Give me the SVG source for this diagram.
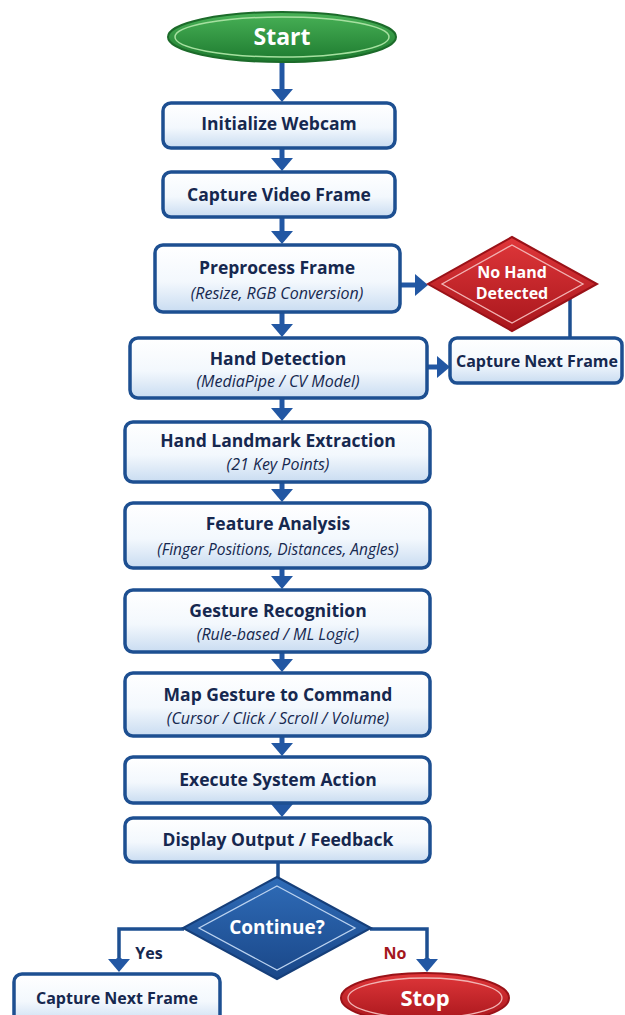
<svg xmlns="http://www.w3.org/2000/svg" width="625" height="1015" viewBox="0 0 625 1015">
<style>
.box{fill:url(#boxg);stroke:#1d4f91;stroke-width:3.5}
.t{font-family:"Open Sans","DejaVu Sans",sans-serif;font-weight:700;fill:#16284f;text-anchor:middle;font-size:17.5px}
.s{font-family:"Open Sans","DejaVu Sans",sans-serif;font-style:italic;fill:#16284f;text-anchor:middle;font-size:16px}
.w{font-family:"Open Sans","DejaVu Sans",sans-serif;font-weight:700;fill:#ffffff;text-anchor:middle}
.a{fill:none;stroke:#2257a3;stroke-width:5}
.l{fill:none;stroke:#1d4f91;stroke-width:3.5}
</style>
<defs>
<linearGradient id="boxg" x1="0" y1="0" x2="0" y2="1">
<stop offset="0" stop-color="#ffffff"/>
<stop offset="0.55" stop-color="#f3f8fd"/>
<stop offset="1" stop-color="#c9dcf1"/>
</linearGradient>
<linearGradient id="greeng" x1="0" y1="0" x2="0" y2="1">
<stop offset="0" stop-color="#49b257"/>
<stop offset="1" stop-color="#1d7a2f"/>
</linearGradient>
<linearGradient id="redg" x1="0" y1="0" x2="0" y2="1">
<stop offset="0" stop-color="#e0373a"/>
<stop offset="1" stop-color="#a8161c"/>
</linearGradient>
<linearGradient id="blueg" x1="0" y1="0" x2="0" y2="1">
<stop offset="0" stop-color="#2f6cb8"/>
<stop offset="1" stop-color="#1a4788"/>
</linearGradient>
<marker id="ah" viewBox="0 0 13 22" markerWidth="13" markerHeight="22" refX="5" refY="11" orient="auto" markerUnits="userSpaceOnUse">
<polygon points="0,0 13,11 0,22" fill="#2257a3"/>
</marker>
</defs>
<rect width="625" height="1015" fill="#ffffff"/>

<g id="connectors">
<path class="a" d="M282,62 V94" marker-end="url(#ah)"/>
<path class="a" d="M282,148 V163" marker-end="url(#ah)"/>
<path class="a" d="M282,217 V236" marker-end="url(#ah)"/>
<path class="a" d="M282,312 V329" marker-end="url(#ah)"/>
<path class="a" d="M282,398 V413" marker-end="url(#ah)"/>
<path class="a" d="M282,482 V494" marker-end="url(#ah)"/>
<path class="a" d="M282,568 V581" marker-end="url(#ah)"/>
<path class="a" d="M282,652 V664" marker-end="url(#ah)"/>
<path class="a" d="M282,736 V748" marker-end="url(#ah)"/>
<path class="a" d="M282,803 V809" marker-end="url(#ah)"/>
<path class="l" d="M278,862 V878"/>
<path class="a" d="M400,285 H420" marker-end="url(#ah)"/>
<path class="a" d="M427,367 H442" marker-end="url(#ah)"/>
<path class="l" d="M570,298 V338"/>
<path class="l" d="M184,929 H119 V962"/>
<path class="a" d="M119,958 V964" marker-end="url(#ah)"/>
<path class="l" d="M370,929 H427 V962"/>
<path class="a" d="M427,958 V964" marker-end="url(#ah)"/>
</g>

<g id="start">
<ellipse cx="282" cy="37" rx="114" ry="25" fill="url(#greeng)" stroke="#1c6b2a" stroke-width="2"/>
<ellipse cx="282" cy="37" rx="107" ry="20" fill="none" stroke="#a6e0a0" stroke-width="1.5"/>
<text class="w" x="282" y="45" font-size="23">Start</text>
</g>

<g id="init">
<rect class="box" x="163" y="103" width="232" height="45" rx="8"/>
<text class="t" x="279" y="130">Initialize Webcam</text>
</g>

<g id="capture">
<rect class="box" x="163" y="172" width="232" height="45" rx="8"/>
<text class="t" x="279" y="201">Capture Video Frame</text>
</g>

<g id="preprocess">
<rect class="box" x="155" y="245" width="245" height="67" rx="8"/>
<text class="t" x="277" y="274">Preprocess Frame</text>
<text class="s" x="277" y="299">(Resize, RGB Conversion)</text>
</g>

<g id="nohand">
<polygon points="512,237 597,284 512,331 428,284" fill="url(#redg)" stroke="#9a1218" stroke-width="2"/>
<polygon points="512,245 583,284 512,323 442,284" fill="none" stroke="#f2b3b3" stroke-width="1.3"/>
<text class="w" x="512" y="278" font-size="16">No Hand</text>
<text class="w" x="512" y="299" font-size="16">Detected</text>
</g>

<g id="handdet">
<rect class="box" x="130" y="338" width="297" height="60" rx="8"/>
<text class="t" x="278" y="365">Hand Detection</text>
<text class="s" x="278" y="387">(MediaPipe / CV Model)</text>
</g>

<g id="nextframe1">
<rect class="box" x="450" y="338" width="172" height="45" rx="7"/>
<text class="t" x="537" y="367" style="font-size:16px">Capture Next Frame</text>
</g>

<g id="landmark">
<rect class="box" x="125" y="422" width="305" height="60" rx="8"/>
<text class="t" x="278" y="447">Hand Landmark Extraction</text>
<text class="s" x="278" y="470">(21 Key Points)</text>
</g>

<g id="feature">
<rect class="box" x="125" y="503" width="305" height="65" rx="8"/>
<text class="t" x="278" y="530">Feature Analysis</text>
<text class="s" x="278" y="555" style="font-size:15.5px">(Finger Positions, Distances, Angles)</text>
</g>

<g id="gesture">
<rect class="box" x="125" y="590" width="305" height="62" rx="8"/>
<text class="t" x="278" y="617">Gesture Recognition</text>
<text class="s" x="278" y="640">(Rule-based / ML Logic)</text>
</g>

<g id="map">
<rect class="box" x="125" y="673" width="305" height="63" rx="8"/>
<text class="t" x="278" y="701">Map Gesture to Command</text>
<text class="s" x="278" y="724">(Cursor / Click / Scroll / Volume)</text>
</g>

<g id="execute">
<rect class="box" x="125" y="757" width="305" height="46" rx="8"/>
<text class="t" x="278" y="786">Execute System Action</text>
</g>

<g id="display">
<rect class="box" x="125" y="818" width="305" height="44" rx="8"/>
<text class="t" x="278" y="846">Display Output / Feedback</text>
</g>

<g id="continue">
<polygon points="277,877 371,928 277,979 183,928" fill="url(#blueg)" stroke="#163f7a" stroke-width="2"/>
<polygon points="277,886 355,928 277,970 199,928" fill="none" stroke="#bcd3f0" stroke-width="1.3"/>
<text class="w" x="277" y="934" font-size="19">Continue?</text>
</g>

<g id="labels">
<text class="t" x="149" y="959" style="font-size:16px">Yes</text>
<text class="t" x="395" y="959" style="font-size:16px;fill:#a3171c">No</text>
</g>

<g id="nextframe2">
<rect class="box" x="14" y="974" width="206" height="50" rx="8"/>
<text class="t" x="117" y="1004" style="font-size:16px">Capture Next Frame</text>
</g>

<g id="stop">
<ellipse cx="425" cy="998" rx="84" ry="25" fill="url(#redg)" stroke="#9a1218" stroke-width="2"/>
<ellipse cx="425" cy="998" rx="77" ry="20" fill="none" stroke="#f2b3b3" stroke-width="1.3"/>
<text class="w" x="425" y="1006" font-size="22">Stop</text>
</g>
</svg>
